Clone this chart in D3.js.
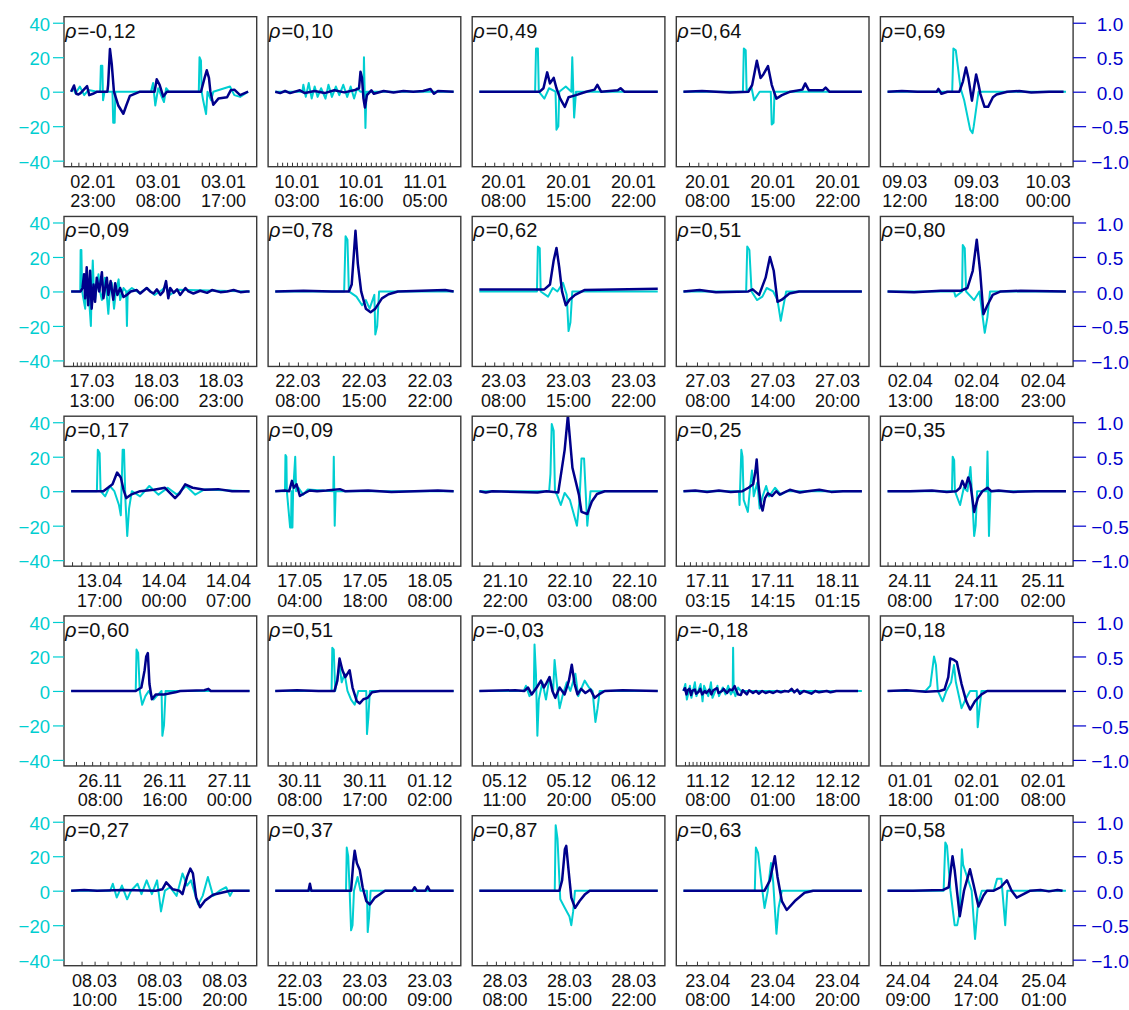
<!DOCTYPE html>
<html>
<head>
<meta charset="utf-8">
<script src="https://cdn.jsdelivr.net/npm/d3@7"></script>
<style>
  html, body { margin: 0; padding: 0; background: #fff; }
  svg { display: block; font-family: "Liberation Sans", Arial, sans-serif; }
</style>
</head>
<body>
<script>
// ---- Panel metadata (25 events, read row by row) ----
const rhoValues = [-0.12, 0.10, 0.49, 0.64, 0.69,
                   0.09, 0.78, 0.62, 0.51, 0.80,
                   0.17, 0.09, 0.78, 0.25, 0.35,
                   0.60, 0.51, -0.03, -0.18, 0.18,
                   0.27, 0.37, 0.87, 0.63, 0.58];

const tickDates = [
  ["02.01","03.01","03.01"], ["10.01","10.01","11.01"], ["20.01","20.01","20.01"], ["20.01","20.01","20.01"], ["09.03","09.03","10.03"],
  ["17.03","18.03","18.03"], ["22.03","22.03","22.03"], ["23.03","23.03","23.03"], ["27.03","27.03","27.03"], ["02.04","02.04","02.04"],
  ["13.04","14.04","14.04"], ["17.05","17.05","18.05"], ["21.10","22.10","22.10"], ["17.11","17.11","18.11"], ["24.11","24.11","25.11"],
  ["26.11","26.11","27.11"], ["30.11","30.11","01.12"], ["05.12","05.12","06.12"], ["11.12","12.12","12.12"], ["01.01","02.01","02.01"],
  ["08.03","08.03","08.03"], ["22.03","23.03","23.03"], ["28.03","28.03","28.03"], ["23.04","23.04","23.04"], ["24.04","24.04","25.04"]
];
const tickTimes = [
  ["23:00","08:00","17:00"], ["03:00","16:00","05:00"], ["08:00","15:00","22:00"], ["08:00","15:00","22:00"], ["12:00","18:00","00:00"],
  ["13:00","06:00","23:00"], ["08:00","15:00","22:00"], ["08:00","15:00","22:00"], ["08:00","14:00","20:00"], ["13:00","18:00","23:00"],
  ["17:00","00:00","07:00"], ["04:00","18:00","08:00"], ["22:00","03:00","08:00"], ["03:15","14:15","01:15"], ["08:00","17:00","02:00"],
  ["08:00","16:00","00:00"], ["08:00","17:00","02:00"], ["11:00","20:00","05:00"], ["08:00","01:00","18:00"], ["18:00","01:00","08:00"],
  ["10:00","15:00","20:00"], ["15:00","00:00","09:00"], ["08:00","15:00","22:00"], ["08:00","14:00","20:00"], ["09:00","17:00","01:00"]
];
// hours between labelled ticks
const labelGapHours = [9,13,7,7,6, 17,7,7,6,5, 7,14,5,11,9, 8,9,9,17,7, 5,9,7,6,8];
// hours from start of record to first labelled tick
const leadHours = [3.0,4.4,2.6,2.6,1.43, 5.5,2.4,2.6,2.25,1.7, 3.1,5.3,2.0,4.1,3.0, 3.6,3.4,3.5,6.4,2.4, 1.8,3.4,2.8,2.25,2.4];
// length of each record in hours
const spanHours = [24.6,36.2,19.2,19.2,14.9, 47.0,18.9,19.2,16.5,13.4, 19.4,38.4,13.8,30.2,24.1, 22.1,24.7,24.9,46.7,18.8, 13.7,24.7,19.4,16.5,21.0];

const leftTicks = [-40, -20, 0, 20, 40];
const rightTicks = [-1.0, -0.5, 0.0, 0.5, 1.0];

// ---- Series: [hours since record start, value] ----
// cyan: left axis units; navy: right axis units
const p01Cyan = [[0,0],[0.3,2],[0.6,-1],[1.2,3],[1.8,-2],[2.4,1],[3.6,0],[4.0,0],[4.1,15],[4.3,15],[4.4,-5],[4.6,0],[5.7,0],[5.8,-18],[6.0,-18],[6.1,0],[6.6,0],[11.0,0],[11.3,5],[11.6,-8],[12.0,2],[12.8,-6],[13.1,2],[13.5,0],[17.6,0],[17.7,20],[17.9,18],[18.0,0],[18.2,-5],[18.6,-13],[18.8,0],[19.3,-5],[19.6,0],[21.9,3],[22.5,-2],[23.3,-3],[24.4,0]];
const p01Navy = [[0,0],[0.4,0.09],[0.7,-0.03],[1.0,-0.04],[1.3,-0.02],[2.2,0.08],[2.5,-0.05],[3,-0.03],[3.6,0],[5.0,0],[5.1,0.1],[5.35,0.62],[5.6,0.4],[5.9,0],[6.5,-0.2],[7.2,-0.32],[7.6,-0.2],[8.1,-0.06],[9.5,0],[11.5,0],[11.8,0.18],[12.2,0.1],[12.7,-0.07],[13.2,0],[17.9,0],[18.4,0.2],[18.7,0.31],[19.0,0.2],[19.2,0],[19.6,-0.19],[20.3,-0.1],[21.5,-0.08],[22,0.02],[22.5,0.03],[23.3,-0.05],[24.4,0]];

const p02Cyan = [[0,0],[5.5,0],[5.7,4],[6.2,-3],[6.8,5],[7.4,-4],[8.0,3],[8.6,-3],[9.3,2],[10.2,-4],[10.8,4],[11.5,-3],[12.3,3],[13.0,-2],[13.8,4],[14.6,-3],[15.3,3],[16.0,-4],[16.6,2],[17.3,0],[17.9,0],[18.0,20],[18.3,-21],[18.5,0],[20,0],[36.2,0]];
const p02Navy = [[0,0],[1,-0.02],[2,0.01],[3,-0.02],[5,0.02],[6,-0.02],[8,0.01],[10,-0.02],[12,0.02],[14,-0.01],[16,0.02],[17.0,0.05],[17.3,0.29],[17.6,0.2],[17.9,-0.1],[18.2,-0.23],[18.6,-0.05],[19.5,0.02],[20,-0.03],[22,0.01],[24,-0.01],[26,0.01],[28,0.0],[30,0.01],[31.5,0.04],[32.2,-0.03],[33,0.01],[36.2,0]];

const p03Cyan = [[0,0],[6.0,0],[6.1,25],[6.3,25],[6.4,0],[7.0,-4],[7.5,2],[8.2,0],[8.3,-22],[8.5,-20],[8.6,0],[9.3,3],[9.9,0],[10.0,20],[10.2,-15],[10.4,0],[19.2,0]];
const p03Navy = [[0,0],[6.5,0],[6.9,0.05],[7.3,0.28],[7.6,0.12],[8.0,0.2],[8.3,0.05],[8.7,-0.1],[9.2,-0.22],[9.6,-0.08],[10.4,-0.05],[11.5,0],[12.4,0.03],[12.7,0.1],[13.1,0],[14.9,0.02],[15.2,0.05],[15.6,0],[19.2,0]];

const p04Cyan = [[0,0],[6.4,0],[6.5,25],[6.7,24],[6.8,0],[7.3,3],[7.6,-5],[8.2,0],[9.4,0],[9.5,-19],[9.7,-18],[9.8,0],[19.2,0]];
const p04Navy = [[0,0],[2,0.01],[5,-0.01],[7.0,0],[7.4,0.1],[7.9,0.45],[8.3,0.2],[8.6,0.25],[9.1,0.37],[9.5,0.1],[10.0,-0.1],[10.6,-0.05],[11.5,0.0],[12.8,0.03],[13.1,0.12],[13.5,0.02],[15.0,0.02],[15.3,0.06],[15.7,0],[19.2,0]];

const p05Cyan = [[0,0],[5.4,0],[5.5,25],[5.7,24],[6.1,2],[6.4,-5],[6.9,-22],[7.1,-24],[7.2,-20],[7.6,0],[14.9,0]];
const p05Navy = [[0,0],[1.2,0.01],[2.5,0],[4.1,0],[4.25,0.04],[4.5,-0.03],[5.0,0],[6.0,0],[6.3,0.15],[6.55,0.35],[6.75,0.2],[7.05,-0.13],[7.4,0.25],[7.6,0.1],[7.75,-0.03],[8.1,-0.22],[8.4,-0.22],[8.8,-0.08],[9.1,-0.04],[10,0],[11.0,0.01],[12,-0.01],[13.5,0.0],[14.7,0]];

const p06Cyan = [[0,0],[2.4,0],[2.5,24],[2.7,24],[2.9,0],[3.7,-10],[4.1,10],[4.6,0],[5.2,-20],[5.4,0],[5.7,18],[6.0,0],[6.3,-5],[7.2,10],[7.6,0],[8.1,-5],[8.9,8],[9.3,0],[9.8,-13],[10.2,0],[10.7,5],[11.3,-10],[11.8,0],[12.5,7],[12.9,-5],[13.8,2],[14.5,0],[14.7,-20],[14.9,0],[16,2],[18,-1],[20,2],[22,-2],[24,1],[25,3],[26,-2],[28,1],[47,0]];
const p06Navy = [[0,0],[2.5,0],[3.0,0.05],[3.4,0.25],[3.7,-0.1],[4.1,0.35],[4.5,-0.2],[5.0,0.3],[5.4,-0.25],[5.9,0.1],[6.3,-0.15],[6.75,0.2],[7.4,0],[8.1,0.28],[8.5,-0.1],[9.4,0.2],[9.8,-0.05],[10.4,0.15],[11.1,-0.12],[11.6,0.12],[12.2,-0.05],[12.9,0.05],[13.8,-0.08],[14.7,-0.05],[15.7,0],[17.3,0.02],[18.2,-0.03],[19.9,0.05],[20.8,0],[21.7,-0.03],[22.6,0.03],[23.5,-0.05],[24.3,0],[25.0,0.15],[25.6,-0.1],[26.1,0.05],[27,-0.02],[27.9,0.03],[28.7,-0.05],[30.1,0.05],[30.9,0],[32.2,-0.03],[34,0.01],[35.8,-0.02],[37.1,0.02],[39.3,-0.01],[41.1,0],[42.8,0.02],[44.6,-0.01],[46.3,0],[47,0]];

const p07Cyan = [[0,0],[7.3,0],[7.45,32],[7.65,30],[7.8,0],[8.6,-3],[9.2,-8],[9.6,-5],[10.0,-10],[10.5,-2],[10.6,-25],[10.8,-20],[11.0,0],[18.9,0]];
const p07Navy = [[0,0],[3,0.01],[6,0],[7.8,0],[8.1,0.1],[8.5,0.88],[8.75,0.4],[9.1,0],[9.6,-0.25],[10.1,-0.3],[10.6,-0.25],[11.3,-0.1],[12.0,-0.04],[13,0],[18,0.02],[18.9,0]];

const p08Cyan = [[0,0],[6.2,0],[6.3,26],[6.5,25],[6.6,0],[7.4,-3],[7.9,2],[8.4,0],[9.0,5],[9.4,-2],[9.6,-23],[9.8,-18],[10.0,0],[19.2,0]];
const p08Navy = [[0,0.03],[4,0.03],[7.0,0.03],[7.6,0.1],[8.0,0.45],[8.3,0.63],[8.6,0.35],[8.9,0.0],[9.3,-0.2],[9.7,-0.12],[10.3,-0.05],[11.3,0.02],[19.2,0.04]];

const p09Cyan = [[0,0],[5.8,0],[5.9,26],[6.1,24],[6.3,0],[6.8,-5],[7.3,-3],[7.7,2],[8.3,0],[8.7,-5],[9.0,-17],[9.2,-10],[9.5,0],[16.5,0]];
const p09Navy = [[0,0],[1.5,0.02],[3,-0.01],[6.0,0],[6.4,0.03],[7.0,-0.05],[7.6,0.2],[8.0,0.5],[8.35,0.3],[8.7,-0.15],[9.1,-0.12],[9.8,-0.03],[10.7,0],[16.5,0]];

const p10Cyan = [[0,0],[5.0,0],[5.1,-3],[5.6,0],[5.65,27],[5.8,25],[5.9,0],[6.5,-5],[6.9,0],[7.3,-24],[7.5,-15],[7.7,0],[13.4,0]];
const p10Navy = [[0,0],[2,-0.01],[4,0.01],[5.5,0.01],[6.0,0.05],[6.4,0.3],[6.7,0.75],[6.95,0.3],[7.2,-0.33],[7.5,-0.2],[7.9,-0.05],[8.5,0.0],[10,0.01],[13.4,0]];

const p11Cyan = [[0,0],[2.8,0],[2.9,24],[3.1,22],[3.2,0],[3.7,-3],[4.2,3],[4.7,0],[5.2,-8],[5.4,-14],[5.6,24],[5.75,24],[5.9,-5],[6.1,-26],[6.3,-10],[6.6,0],[7.5,-3],[8.5,3],[9.5,-2],[10.5,2],[11.5,-2],[12.5,3],[13.5,-2],[14.5,1],[19.4,0]];
const p11Navy = [[0,0],[3.5,0],[4.0,0.05],[4.5,0.1],[5.0,0.27],[5.4,0.2],[5.7,0.02],[6.0,-0.1],[6.5,-0.05],[7.5,0],[9,0.02],[10.2,0.05],[11.3,-0.1],[11.8,-0.03],[12.4,0.1],[13.2,0.05],[14.5,0.02],[16,0.03],[17.5,0],[19.4,0]];

const p12Cyan = [[0,0],[2.1,0],[2.2,21],[2.4,20],[2.5,0],[3.2,-21],[3.4,-21],[3.5,0],[3.7,-21],[3.85,0],[4.3,20],[4.5,0],[5,2],[6,-2],[7,1],[12.5,0],[12.6,20],[12.8,-20],[13.0,0],[38.4,0]];
const p12Navy = [[0,0],[2,0.01],[3.0,0],[3.6,0.15],[4.0,0.05],[4.6,0.1],[5.3,-0.07],[6.3,-0.03],[7.4,0.01],[9,0],[11,0.01],[13.9,0.03],[15,0],[20,0.01],[25,-0.01],[30,0.0],[35,0.01],[38.4,0]];

const p13Cyan = [[0,0],[5.4,0],[5.5,10],[5.6,39],[5.75,35],[5.85,0],[6.0,-2],[6.3,-8],[6.6,-1],[7.0,-5],[7.55,-20],[7.75,-5],[7.9,19],[8.1,19],[8.35,-20],[8.6,0],[13.8,0]];
const p13Navy = [[0,0],[0.5,-0.02],[1,0],[4.5,-0.02],[5.2,0],[6.1,-0.02],[6.6,0.6],[6.85,1.1],[7.2,0.34],[7.7,-0.05],[7.9,-0.3],[8.35,-0.33],[8.7,-0.15],[9.1,-0.04],[9.7,0],[13.8,0]];

const p14Cyan = [[0,0],[9.4,0],[9.5,-8],[9.8,24],[10.0,20],[10.2,-5],[10.9,-12],[11.3,3],[11.6,12],[11.9,-3],[12.5,5],[12.9,-10],[13.4,-3],[14.0,3],[14.5,-3],[15.5,2],[16.5,-2],[17.5,0],[30.2,0]];
const p14Navy = [[0,0],[2,0.01],[4,-0.01],[6,0.01],[8,-0.01],[10,0],[11.0,0.05],[11.8,0.1],[12.2,0.3],[12.4,0.46],[12.7,0.1],[13.1,-0.2],[13.4,-0.28],[13.8,-0.1],[14.3,-0.03],[15,-0.07],[15.7,0.0],[16.3,-0.05],[17,-0.02],[18,0.02],[19.7,-0.02],[21,0],[23,0.02],[25,-0.01],[27,0],[30.2,0]];

const p15Cyan = [[0,0],[8.7,0],[8.8,20],[9.0,18],[9.1,0],[9.8,-8],[10.3,2],[10.8,0],[11.2,14],[11.4,0],[11.7,-26],[11.9,-20],[12.1,0],[13.4,0],[13.5,23],[13.7,-26],[13.9,0],[24.1,0]];
const p15Navy = [[0,0],[3,0],[6,0.01],[8,-0.01],[9.3,0],[9.8,0.05],[10.1,0.15],[10.5,0.05],[10.9,0.2],[11.2,0.1],[11.7,-0.3],[12.2,-0.1],[12.8,0],[13.5,0.05],[14,0],[15,0.01],[17,-0.01],[20,0],[24.1,0]];

const p16Cyan = [[0,0],[8.0,0],[8.1,24],[8.3,22],[8.5,0],[8.8,-8],[9.2,-3],[9.6,0],[10.2,-5],[10.8,-2],[11.2,0],[11.3,-26],[11.5,-20],[11.7,0],[22.1,0]];
const p16Navy = [[0,0],[4,0],[8,0.0],[8.7,0.05],[9.1,0.3],[9.3,0.5],[9.5,0.55],[9.7,0.1],[10.0,-0.12],[10.5,-0.05],[11.5,-0.05],[12.9,-0.02],[13.5,0],[16.5,0.01],[17.0,0.03],[17.3,0],[22.1,0]];

const p17Cyan = [[0,0],[7.8,0],[7.9,25],[8.1,24],[8.3,0],[8.9,15],[9.2,5],[9.6,10],[10.0,0],[10.5,-5],[11.0,-8],[11.5,0],[12.6,0],[12.7,-25],[12.9,-15],[13.1,0],[24.7,0]];
const p17Navy = [[0,0],[3,0.01],[6,0],[8.2,0],[8.6,0.15],[8.9,0.47],[9.3,0.3],[9.7,0.2],[10.3,0.3],[10.7,0.05],[11.3,-0.15],[11.7,-0.18],[12.2,-0.12],[12.8,-0.1],[13.4,-0.02],[14.5,0],[24.7,0]];

const p18Cyan = [[0,0],[6.2,0],[6.5,3],[7.0,-3],[7.6,0],[7.7,27],[7.9,10],[8.1,-26],[8.3,-5],[8.8,5],[9.3,-5],[9.8,8],[10.3,0],[10.5,18],[10.8,5],[11.2,-10],[11.6,-3],[12.2,5],[12.7,0],[13.4,10],[13.8,-3],[14.3,2],[14.7,6],[15.3,2],[15.8,0],[16.2,-18],[16.5,-10],[16.8,0],[24.9,0]];
const p18Navy = [[0,0],[5,0.01],[6.3,0],[6.8,0.05],[7.3,-0.05],[8.0,0.05],[8.6,0.15],[9.0,0.05],[9.4,0.12],[9.8,0.2],[10.2,0.0],[10.6,-0.1],[11.2,0.05],[11.9,-0.05],[12.5,0.15],[12.9,0.38],[13.3,0.1],[13.7,-0.05],[14.2,0.03],[14.8,-0.03],[15.5,0.02],[16.1,-0.1],[16.7,-0.05],[17.5,0],[20,0.01],[24.9,0]];

const p19Cyan = [[0,0],[0.5,4],[0.9,-5],[1.7,3],[2.1,-4],[3.0,5],[3.4,-3],[4.5,4],[5.0,-6],[5.4,3],[6.5,-3],[7.2,5],[7.6,-4],[8.9,3],[9.3,-3],[10.3,2],[11.0,-2],[11.7,3],[12.4,-2],[12.9,0],[13.0,25],[13.15,0],[13.6,-3],[14.3,2],[15,0],[46.7,0]];
const p19Navy = [[0,0],[0.4,0.04],[0.8,-0.05],[1.1,0.01],[1.6,0.03],[2.0,-0.06],[2.3,0.0],[3.0,0.02],[3.3,-0.04],[4.0,-0.01],[4.4,0.03],[4.9,-0.05],[5.6,0.0],[6.0,-0.03],[6.8,0.02],[7.3,-0.05],[7.8,0.01],[8.8,0.04],[9.2,-0.03],[10.1,0.0],[10.5,0.03],[11.4,-0.03],[12.1,0.02],[12.8,0.01],[13.4,0.07],[13.9,0.0],[14.3,-0.05],[15.0,-0.06],[15.5,0.01],[16.6,-0.05],[17.2,0.01],[18.2,-0.03],[19.0,0.0],[19.7,-0.04],[20.6,0.0],[21.5,-0.03],[22.5,-0.01],[23.5,-0.03],[24.5,0],[25.5,-0.02],[26.5,0.0],[27.5,-0.01],[28.3,0.03],[29.0,-0.02],[29.8,0.02],[30.5,-0.04],[31.5,0.0],[32.6,-0.02],[33.5,-0.04],[34.5,0.0],[35.5,-0.02],[37.5,0.0],[38.5,-0.02],[40,0],[43,0],[45.7,0]];

const p20Cyan = [[0,0],[4,0],[4.5,3],[4.9,20],[5.1,15],[5.3,0],[5.8,-6],[6.2,0],[6.7,5],[7.0,15],[7.2,5],[7.8,-10],[8.2,-5],[8.7,0],[9.4,0],[9.5,-21],[9.7,-10],[9.9,0],[18.8,0]];
const p20Navy = [[0,0],[2,0.01],[4,-0.01],[5.5,0],[6.0,0.02],[6.4,0.2],[6.6,0.47],[7.0,0.45],[7.3,0.42],[7.8,0.1],[8.3,-0.15],[8.7,-0.27],[9.2,-0.15],[9.9,-0.05],[10.5,0],[18.8,0]];

const p21Cyan = [[0,0],[3.0,0],[3.2,4],[3.5,-4],[3.9,3],[4.3,-5],[4.6,0],[5.1,4],[5.4,-2],[5.8,6],[6.2,-2],[6.6,6],[6.9,-12],[7.2,0],[7.6,2],[8.1,-3],[8.55,10],[8.9,3],[9.2,6],[9.75,-8],[10.1,-3],[10.5,8],[10.9,-3],[11.4,0],[11.9,2],[12.2,-3],[12.4,0],[13.7,0]];
const p21Navy = [[0,0],[1,0.01],[2,0],[4,0.01],[6.5,0],[7.0,0.02],[7.3,0.12],[7.8,0.02],[8.3,0.0],[8.55,-0.05],[8.9,0.2],[9.15,0.32],[9.35,0.25],[9.6,-0.1],[9.9,-0.24],[10.3,-0.14],[10.9,-0.06],[12.2,0],[13.7,0]];

const p22Cyan = [[0,0],[9.8,0],[9.9,25],[10.1,20],[10.3,0],[10.5,-23],[10.7,-20],[10.9,0],[11.4,8],[11.8,0],[12.7,0],[12.8,-24],[13.0,-15],[13.2,0],[24.7,0]];
const p22Navy = [[0,0],[4.6,0],[4.8,0.1],[5.0,0],[10.5,0],[10.8,0.4],[11.0,0.58],[11.3,0.4],[11.7,0.3],[12.1,0.05],[12.6,-0.15],[13.1,-0.2],[13.8,-0.1],[15.2,0],[19.0,0],[19.3,0.05],[19.6,0],[20.8,0],[21.1,0.06],[21.4,0],[24.7,0]];

const p23Cyan = [[0,0],[8.2,0],[8.3,38],[8.5,30],[8.8,-5],[9.3,-10],[9.8,-15],[10.0,-20],[10.2,-12],[10.4,0],[19.4,0]];
const p23Navy = [[0,0],[5,0],[8.7,0],[9.0,0.15],[9.3,0.6],[9.45,0.65],[9.7,0.3],[10.0,-0.1],[10.4,-0.25],[10.9,-0.15],[11.5,-0.05],[12.0,0],[19.4,0]];

const p24Cyan = [[0,0],[6.6,0],[6.7,25],[6.9,22],[7.2,5],[7.5,-10],[7.8,0],[8.1,16],[8.3,5],[8.6,-25],[8.8,-10],[9.1,0],[16.5,0]];
const p24Navy = [[0,0],[5,0],[7.5,0],[8.0,0.15],[8.45,0.5],[8.7,0.2],[9.1,-0.15],[9.55,-0.28],[10.3,-0.15],[11.2,-0.03],[12,0],[16.5,0]];

const p25Cyan = [[0,0],[6.6,0],[6.8,28],[7.0,26],[7.4,0],[7.9,-20],[8.2,-20],[8.5,-12],[8.75,24],[8.9,15],[9.3,9],[9.9,0],[10.3,-28],[10.6,-10],[10.8,-5],[11.1,0],[12.5,0],[12.9,7],[13.4,7],[13.85,-20],[14.1,0],[21,0]];
const p25Navy = [[0,0],[3,0],[6.5,0.01],[7.2,0.05],[7.65,0.5],[7.9,0.3],[8.5,-0.37],[9.0,0],[9.7,0.31],[10.1,0.1],[10.7,-0.23],[11.3,-0.07],[11.7,0],[12.5,0],[13.3,0.05],[14.05,0.15],[14.6,0],[15.2,-0.1],[16.0,-0.05],[16.8,0],[18,0.01],[19,-0.01],[20,0.01],[20.6,0]];

const cyanSeries = [p01Cyan,p02Cyan,p03Cyan,p04Cyan,p05Cyan,p06Cyan,p07Cyan,p08Cyan,p09Cyan,p10Cyan,
  p11Cyan,p12Cyan,p13Cyan,p14Cyan,p15Cyan,p16Cyan,p17Cyan,p18Cyan,p19Cyan,p20Cyan,
  p21Cyan,p22Cyan,p23Cyan,p24Cyan,p25Cyan];
const navySeries = [p01Navy,p02Navy,p03Navy,p04Navy,p05Navy,p06Navy,p07Navy,p08Navy,p09Navy,p10Navy,
  p11Navy,p12Navy,p13Navy,p14Navy,p15Navy,p16Navy,p17Navy,p18Navy,p19Navy,p20Navy,
  p21Navy,p22Navy,p23Navy,p24Navy,p25Navy];

// ---- Layout & style ----
const W = 1129, H = 1010;
const boxW = 192.7, boxH = 150;
const gridLeft = 64, gridTop = 16.7, stepX = 204.1, stepY = 199.75;
const cyanCol = "#00CED1", navyCol = "#00008B", rightAxisCol = "#0000CD";
const yLim = 43.5; // left-axis half range incl. padding
const ratio = 40;  // left units per right unit
const rightLabelX = 1110; // centre of right-axis labels

const svg = d3.select("body").append("svg").attr("width", W).attr("height", H);
svg.append("rect").attr("width", W).attr("height", H).attr("fill", "#fff");
const defs = svg.append("defs");

rhoValues.forEach((rho, i) => {
  const c = i % 5, r = Math.floor(i / 5);
  const left = gridLeft + c * stepX, top = gridTop + r * stepY;
  const span = spanHours[i], pad = span * 0.04;

  const x = d3.scaleLinear().domain([-pad, span + pad]).range([left, left + boxW]);
  const yL = d3.scaleLinear().domain([-yLim, yLim]).range([top + boxH, top]);
  const yR = d3.scaleLinear().domain([-yLim / ratio, yLim / ratio]).range([top + boxH, top]);

  const g = svg.append("g");

  const clipId = "clip" + i;
  defs.append("clipPath").attr("id", clipId)
    .append("rect").attr("x", left).attr("y", top).attr("width", boxW).attr("height", boxH);

  const plot = g.append("g").attr("clip-path", `url(#${clipId})`);
  plot.append("path").datum(cyanSeries[i])
    .attr("fill", "none").attr("stroke", cyanCol).attr("stroke-width", 2)
    .attr("stroke-linejoin", "round")
    .attr("d", d3.line().x(d => x(d[0])).y(d => yL(d[1])));
  plot.append("path").datum(navySeries[i])
    .attr("fill", "none").attr("stroke", navyCol).attr("stroke-width", 2.5)
    .attr("stroke-linejoin", "round")
    .attr("d", d3.line().x(d => x(d[0])).y(d => yR(d[1])));

  // hourly ticks along the bottom, pointing inward
  const lead = leadHours[i];
  const hourTicks = d3.range(Math.ceil(-lead - 1e-6), Math.floor(span - lead + 1e-6) + 1).map(k => lead + k);
  const xAxis = g.append("g").attr("transform", `translate(0,${top + boxH})`)
    .call(d3.axisBottom(x).tickValues(hourTicks).tickSize(-4).tickFormat(""));
  xAxis.select(".domain").remove();
  xAxis.selectAll("line").attr("stroke", "#333").attr("stroke-width", 1);

  // labelled ticks: date over time
  const labelHours = [0, 1, 2].map(k => lead + k * labelGapHours[i]);
  labelHours.forEach((h, k) => {
    const t = g.append("text").attr("x", x(h)).attr("text-anchor", "middle")
      .attr("font-size", "18px").attr("fill", "#111");
    t.append("tspan").attr("x", x(h)).attr("y", top + boxH + 21).text(tickDates[i][k]);
    t.append("tspan").attr("x", x(h)).attr("y", top + boxH + 40.5).text(tickTimes[i][k]);
  });

  // frame
  g.append("rect").attr("x", left).attr("y", top).attr("width", boxW).attr("height", boxH)
    .attr("fill", "none").attr("stroke", "#3a3a3a").attr("stroke-width", 1.4);

  // correlation label, decimal comma followed by a thin gap
  const parts = rho.toFixed(2).split(".");
  const lab = g.append("text").attr("x", left + 1).attr("y", top + 21)
    .attr("font-size", "20px").attr("fill", "#111");
  lab.append("tspan").attr("font-style", "italic").text("\u03C1");
  lab.append("tspan").attr("dx", 1).text("=" + parts[0] + ",");
  lab.append("tspan").attr("dx", 1).text(parts[1]);

  if (c === 0) {
    const ax = g.append("g").attr("transform", `translate(${left},0)`)
      .call(d3.axisLeft(yL).tickValues(leftTicks).tickSize(11).tickPadding(3).tickFormat(d3.format("d")));
    ax.select(".domain").remove();
    ax.selectAll("line").attr("stroke", cyanCol).attr("stroke-width", 1.2);
    ax.selectAll("text").attr("fill", cyanCol).attr("font-size", "18.5px")
      .attr("font-family", "Liberation Sans, Arial, sans-serif").attr("dy", "0.4em");
  }
  if (c === 4) {
    const ax = g.append("g").attr("transform", `translate(${left + boxW},0)`)
      .call(d3.axisRight(yR).tickValues(rightTicks).tickSize(13).tickFormat(d3.format(".1f")));
    ax.select(".domain").remove();
    ax.selectAll("line").attr("stroke", rightAxisCol).attr("stroke-width", 1.2);
    ax.selectAll("text").attr("fill", rightAxisCol).attr("font-size", "19px")
      .attr("font-family", "Liberation Sans, Arial, sans-serif").attr("dy", "0.4em")
      .attr("text-anchor", "middle").attr("x", rightLabelX - (left + boxW));
  }
});
</script>
</body>
</html>
